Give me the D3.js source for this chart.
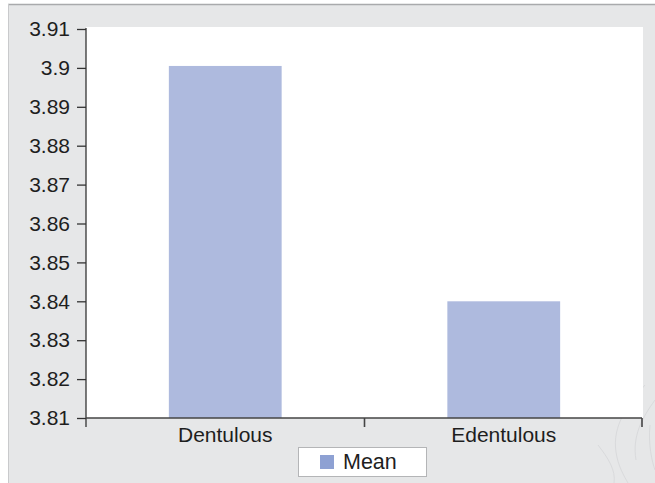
<!DOCTYPE html>
<html>
<head>
<meta charset="utf-8">
<script src="https://cdn.jsdelivr.net/npm/d3@7"></script>
<style>
  html, body { margin: 0; padding: 0; background: #ffffff; }
  svg { display: block; font-family: "Liberation Sans", Arial, Helvetica, sans-serif; }
</style>
</head>
<body>
<svg id="chart" width="655" height="483"></svg>
<script>
// Mean score per group
const categories = ["Dentulous", "Edentulous"];
const meanValues = [3.9005, 3.84];
const yTicks = [3.81, 3.82, 3.83, 3.84, 3.85, 3.86, 3.87, 3.88, 3.89, 3.9, 3.91];
const seriesName = "Mean";

const W = 655, H = 483;
const plot = { left: 86, right: 643, top: 27, bottom: 418 };
const barColor = "#aebade";
const swatchColor = "#8ea1d3";
const fontSize = "21px";

const svg = d3.select("#chart");

// outer panel
svg.append("rect").attr("x", 8).attr("y", 4).attr("width", W - 8).attr("height", H - 4)
  .attr("fill", "#e6e7e8");
svg.append("line").attr("x1", 8).attr("x2", W).attr("y1", 4.5).attr("y2", 4.5)
  .attr("stroke", "#a9aaac").attr("stroke-width", 1.5);
svg.append("line").attr("x1", 8.5).attr("x2", 8.5).attr("y1", 4).attr("y2", H)
  .attr("stroke", "#c9cacc").attr("stroke-width", 1);

// faint decorative sketch in the lower-right corner
const deco = svg.append("g").attr("fill", "none").attr("stroke", "#d9dadc").attr("stroke-width", 1);
["M645,385 C628,405 612,425 616,452 C618,466 624,476 628,483",
 "M655,400 C642,418 632,436 636,460",
 "M598,445 C608,458 616,470 614,483",
 "M650,425 C648,444 652,462 655,470"].forEach(d => deco.append("path").attr("d", d));

// plot background
svg.append("rect").attr("x", plot.left).attr("y", plot.top)
  .attr("width", plot.right - plot.left).attr("height", plot.bottom - plot.top)
  .attr("fill", "#ffffff");

const x = d3.scaleBand().domain(categories).range([plot.left, plot.right]).padding(0);
const y = d3.scaleLinear().domain([3.81, 3.91]).range([plot.bottom, 29]);

const barW = x.bandwidth() * 0.405;

svg.append("g").selectAll("rect").data(categories).join("rect")
  .attr("x", (d) => x(d) + x.bandwidth() / 2 - barW / 2)
  .attr("y", (d, i) => y(meanValues[i]))
  .attr("width", barW)
  .attr("height", (d, i) => y(3.81) - y(meanValues[i]))
  .attr("fill", barColor);

// y axis
const yAxis = svg.append("g").attr("transform", `translate(${plot.left},0)`)
  .call(d3.axisLeft(y).tickValues(yTicks).tickFormat(d3.format("")).tickSize(9).tickPadding(7));
yAxis.select(".domain").remove();
yAxis.append("line").attr("x1", 0).attr("x2", 0).attr("y1", 28).attr("y2", plot.bottom + 9)
  .attr("stroke", "#333").attr("stroke-width", 1.3);
yAxis.selectAll(".tick line").attr("stroke", "#333").attr("stroke-width", 1.3);
yAxis.selectAll(".tick text").attr("fill", "#1e1e1e").style("font-size", fontSize)
  .style("font-family", "'Liberation Sans', Arial, sans-serif");

// x axis: boundaries between categories get tick marks, labels sit at band centres
const xg = svg.append("g");
xg.append("line").attr("x1", plot.left).attr("x2", plot.right - 1)
  .attr("y1", plot.bottom).attr("y2", plot.bottom)
  .attr("stroke", "#444").attr("stroke-width", 1.6);
const bounds = categories.map(c => Math.min(x(c) + x.bandwidth(), plot.right - 1));
xg.selectAll("line.tk").data(bounds).join("line").attr("class", "tk")
  .attr("x1", d => d).attr("x2", d => d)
  .attr("y1", plot.bottom).attr("y2", plot.bottom + 9)
  .attr("stroke", "#444").attr("stroke-width", 1.6);
xg.selectAll("text").data(categories).join("text")
  .attr("x", d => x(d) + x.bandwidth() / 2)
  .attr("y", 442)
  .attr("text-anchor", "middle")
  .attr("fill", "#1e1e1e")
  .style("font-size", fontSize)
  .text(d => d);

// legend
const lg = svg.append("g");
lg.append("rect").attr("x", 298.5).attr("y", 447.5).attr("width", 128).attr("height", 29)
  .attr("fill", "#ffffff").attr("stroke", "#b4b5b7").attr("stroke-width", 1);
lg.append("rect").attr("x", 320).attr("y", 455).attr("width", 14).attr("height", 14)
  .attr("fill", swatchColor);
lg.append("text").attr("x", 343).attr("y", 469).attr("fill", "#1e1e1e")
  .style("font-size", "21.5px").text(seriesName);
</script>
</body>
</html>
